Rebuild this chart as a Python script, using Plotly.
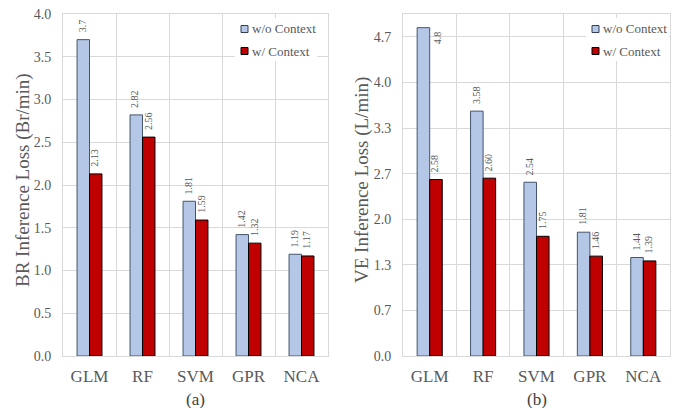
import plotly.graph_objects as go

# --- data ---------------------------------------------------------------
models = ["GLM", "RF", "SVM", "GPR", "NCA"]
series_names = ["w/o Context", "w/ Context"]

# value labels as printed on the bars; bar heights are parsed from them
br_without_ctx = ["3.7", "2.82", "1.81", "1.42", "1.19"]
br_with_ctx = ["2.13", "2.56", "1.59", "1.32", "1.17"]
ve_without_ctx = ["4.8", "3.58", "2.54", "1.81", "1.44"]
ve_with_ctx = ["2.58", "2.60", "1.75", "1.46", "1.39"]

br_ticks = [0.0, 0.5, 1.0, 1.5, 2.0, 2.5, 3.0, 3.5, 4.0]
br_ticktext = ["0.0", "0.5", "1.0", "1.5", "2.0", "2.5", "3.0", "3.5", "4.0"]
ve_ticks = [0, 2 / 3, 4 / 3, 2, 8 / 3, 10 / 3, 4, 14 / 3]
ve_ticktext = ["0.0", "0.7", "1.3", "2.0", "2.7", "3.3", "4.0", "4.7"]

br_title = "BR Inference Loss (Br/min)"
ve_title = "VE Inference Loss (L/min)"
panel_captions = ["(a)", "(b)"]

# --- styling ------------------------------------------------------------
W, H = 673, 408
FONT = "Liberation Serif, Times New Roman, serif"
TXT = "#595959"
GRID = "#d9d9d9"
BLUE, BLUE_EDGE = "#b4c7e7", "#44546a"
RED, RED_EDGE = "#c00000", "#000000"


def px_x(p):
    return p / W


def px_y(p):
    return 1 - p / H


panels = [
    dict(xa="x", ya="y", dom=(63, 328), top=4.0, ticks=br_ticks, ticktext=br_ticktext,
         series=[br_without_ctx, br_with_ctx], title=br_title, title_x=23,
         legend_box=(235, 317), cap=panel_captions[0]),
    dict(xa="x2", ya="y2", dom=(403, 670), top=5.0, ticks=ve_ticks, ticktext=ve_ticktext,
         series=[ve_without_ctx, ve_with_ctx], title=ve_title, title_x=362,
         legend_box=(586, 669), cap=panel_captions[1]),
]

fig = go.Figure()
annotations = []
shapes = []
fills = [BLUE, RED]
edges = [BLUE_EDGE, RED_EDGE]
BAR_HALF = 6.3  # half a bar width in px (offset of each bar from category centre)

for pi, p in enumerate(panels):
    for si, labels in enumerate(p["series"]):
        vals = [float(s) for s in labels]
        fig.add_trace(go.Bar(
            x=models, y=vals, name=series_names[si], showlegend=False,
            marker=dict(color=fills[si], line=dict(color=edges[si], width=1)),
            xaxis=p["xa"], yaxis=p["ya"], hoverinfo="skip",
        ))
        off = -BAR_HALF if si == 0 else BAR_HALF
        for m, v, lab in zip(models, vals, labels):
            if v > 0.95 * p["top"]:
                # no room above: put the label beside the bar top
                annotations.append(dict(
                    x=m, y=v, xref=p["xa"], yref=p["ya"], text=lab, textangle=-90,
                    showarrow=False, xanchor="center", yanchor="top",
                    xshift=off + 2 * BAR_HALF + 1, yshift=-2,
                    font=dict(family=FONT, size=10, color=TXT),
                ))
            else:
                annotations.append(dict(
                    x=m, y=v, xref=p["xa"], yref=p["ya"], text=lab, textangle=-90,
                    showarrow=False, xanchor="center", yanchor="bottom",
                    xshift=off - 1, yshift=5,
                    font=dict(family=FONT, size=10, color=TXT),
                ))

    # axis title and caption
    annotations.append(dict(
        x=px_x(p["title_x"]), y=px_y(180), xref="paper", yref="paper", text=p["title"],
        textangle=-90, showarrow=False, xanchor="center", yanchor="middle",
        font=dict(family=FONT, size=19, color=TXT),
    ))
    annotations.append(dict(
        x=px_x((p["dom"][0] + p["dom"][1]) / 2), y=px_y(399), xref="paper", yref="paper",
        text=p["cap"], showarrow=False, xanchor="center", yanchor="middle",
        font=dict(family=FONT, size=17, color="#404040"),
    ))

    # legend box with swatches
    lx0, lx1 = p["legend_box"]
    shapes.append(dict(type="rect", xref="paper", yref="paper",
                       x0=px_x(lx0), x1=px_x(lx1), y0=px_y(61), y1=px_y(18),
                       fillcolor="white", line=dict(width=0), layer="above"))
    for si, name in enumerate(series_names):
        cy = 29 + 22 * si
        sx = lx0 + 6
        shapes.append(dict(type="rect", xref="paper", yref="paper",
                           x0=px_x(sx), x1=px_x(sx + 7), y0=px_y(cy + 3.5), y1=px_y(cy - 3.5),
                           fillcolor=fills[si], line=dict(color=edges[si] if si else "#333f50", width=1),
                           layer="above"))
        annotations.append(dict(
            x=px_x(sx + 9), y=px_y(cy), xref="paper", yref="paper", text=name,
            showarrow=False, xanchor="left", yanchor="middle",
            font=dict(family=FONT, size=13, color=TXT),
        ))

axis_common_x = dict(
    type="category", range=[-0.5, 4.5], tickson="boundaries", showgrid=True,
    gridcolor=GRID, gridwidth=1, showline=True, mirror=True, linecolor=GRID,
    ticks="", ticklabelstandoff=5, tickfont=dict(family=FONT, size=17, color=TXT),
    fixedrange=True, automargin=False,
)

layout = dict(
    width=W, height=H, margin=dict(l=0, r=0, t=0, b=0),
    paper_bgcolor="white", plot_bgcolor="white",
    barmode="group", bargap=0.53, bargroupgap=0,
    showlegend=False, annotations=annotations, shapes=shapes,
    font=dict(family=FONT, color=TXT),
)
for i, p in enumerate(panels):
    sfx = "" if i == 0 else "2"
    layout["xaxis" + sfx] = dict(axis_common_x, domain=[px_x(p["dom"][0]), px_x(p["dom"][1])],
                                 anchor="y" + sfx)
    layout["yaxis" + sfx] = dict(
        range=[0, p["top"]], domain=[px_y(356), px_y(14)], anchor="x" + sfx,
        tickvals=p["ticks"], ticktext=p["ticktext"], showgrid=True, gridcolor=GRID,
        gridwidth=1, zeroline=False, showline=True, mirror=True, linecolor=GRID,
        ticks="", ticklabelstandoff=8, tickfont=dict(family=FONT, size=14, color=TXT),
        fixedrange=True, automargin=False,
    )

fig.update_layout(**layout)
fig.write_html("out.html")
